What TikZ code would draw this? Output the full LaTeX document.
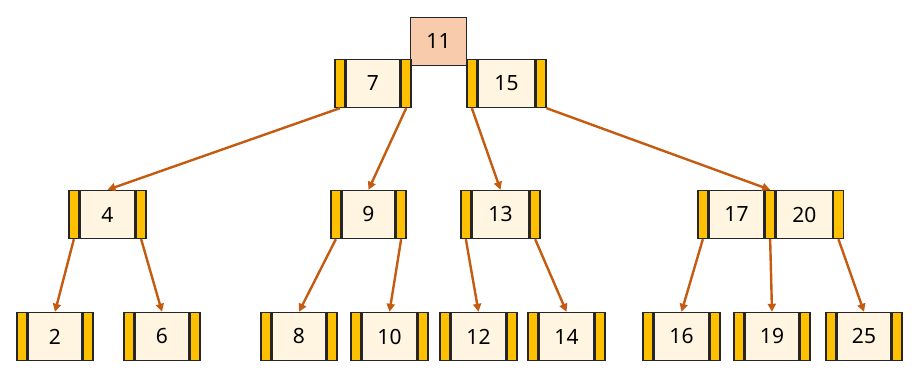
\documentclass[tikz,border=0pt]{standalone}
\usepackage{fontspec}
\setmainfont{Noto Sans}
\usetikzlibrary{arrows.meta}
\definecolor{cream}{HTML}{FFF5E1}
\definecolor{barc}{HTML}{FFC000}
\definecolor{peach}{HTML}{F8CBAD}
\definecolor{arrc}{HTML}{C55A11}
\definecolor{edge}{HTML}{262626}
\tikzset{
  key/.style={draw=edge, line width=1.4pt, fill=cream, minimum height=48, inner sep=0,
    font=\fontsize{21}{25}\selectfont},
  bar/.style={draw=edge, line width=1.4pt, fill=barc, minimum width=9.5, minimum height=48, inner sep=0},
  rootbox/.style={draw=edge, line width=1.4pt, fill=peach, minimum width=56, minimum height=48, inner sep=0,
    font=\fontsize{21}{25}\selectfont},
  arr/.style={draw=arrc, line width=2.4pt, -{Triangle[length=8pt,width=8pt]}}
}
\newcommand\tnode[5]{%
  \node[key, minimum width={#3-#2-20}] (#1) at ({(#2+#3)/2},{#4+24.5}) {#5};
  \node[bar, anchor=east] (#1L) at (#1.west) {};
  \node[bar, anchor=west] (#1R) at (#1.east) {};
}
\begin{document}
\begin{tikzpicture}[x=1pt,y=-1pt]
\useasboundingbox (0,0) rectangle (919,382);
% root
\node[rootbox] (root) at (438.5,41.5) {11};
% level 1
\tnode{n7}{336}{410}{59}{7}
\tnode{n15}{468}{545}{59}{15}
% level 2
\tnode{n4}{70}{145}{190}{4}
\tnode{n9}{332}{405}{190}{9}
\tnode{n13}{462}{539}{190}{13}
% 17|20
\node[key, minimum width=55] (n17) at (736.5,214.5) {17};
\node[bar, anchor=east] (n17L) at (n17.west) {};
\node[bar, anchor=west] (n17M) at (n17.east) {};
\node[key, minimum width=56, anchor=west] (n20) at (n17M.east) {20};
\node[bar, anchor=west] (n20R) at (n20.east) {};
% level 3
\tnode{n2}{18}{92}{312}{2}
\tnode{n6}{125}{199}{312}{6}
\tnode{n8}{262}{336}{312}{8}
\tnode{n10}{352}{427}{312}{10}
\tnode{n12}{441}{516}{312}{12}
\tnode{n14}{529}{604}{312}{14}
\tnode{n16}{644}{719}{312}{16}
\tnode{n19}{735}{809}{312}{19}
\tnode{n25}{827}{901}{312}{25}
% arrows
\draw[arr] (n7L.south) -- (n4.north);
\draw[arr] (n7R.south) -- (n9.north);
\draw[arr] (n15L.south) -- (n13.north);
\draw[arr] (n15R.south east) -- (n17M.north);
\draw[arr] (n4L.south) -- (n2.north);
\draw[arr] (n4R.south) -- (n6.north);
\draw[arr] (n9L.south) -- (n8.north);
\draw[arr] (n9R.south) -- (n10.north);
\draw[arr] (n13L.south) -- (n12.north);
\draw[arr] (n13R.south) -- (n14.north);
\draw[arr] (n17L.south) -- (n16.north);
\draw[arr] (n17M.south) -- (n19.north);
\draw[arr] (n20R.south) -- (n25.north);
\end{tikzpicture}
\end{document}
